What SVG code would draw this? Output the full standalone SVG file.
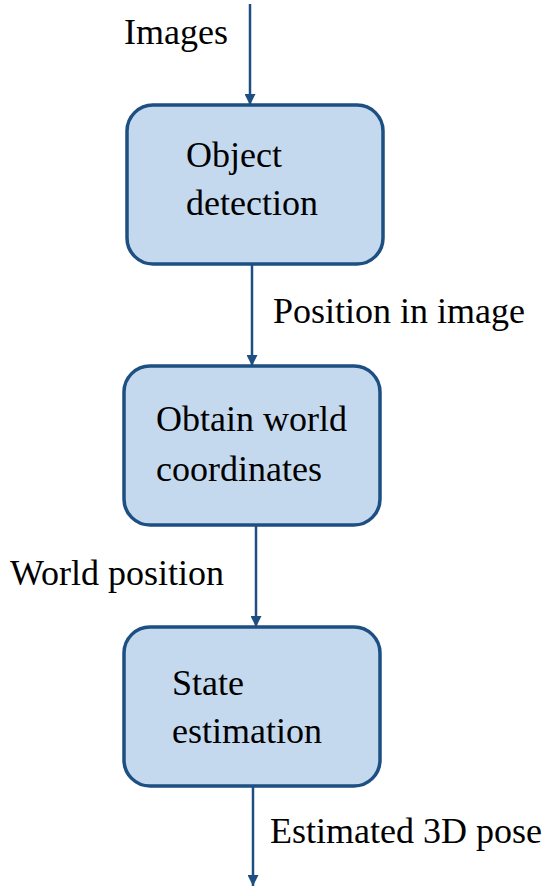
<svg xmlns="http://www.w3.org/2000/svg" width="551" height="888" viewBox="0 0 551 888">
  <style>
    .box { fill: #c5d9ee; stroke: #1d4f82; stroke-width: 3.5; }
    .edge { stroke: #1d4f82; stroke-width: 2.5; fill: none; }
  </style>
  <defs>
    <marker id="arrow" viewBox="0 0 10 10" refX="10" refY="5" markerWidth="4.4" markerHeight="4.4" orient="auto" markerUnits="strokeWidth">
      <path d="M0,0 L10,5 L0,10 Z" fill="#1d4f82"/>
    </marker>
  </defs>

  <g id="connectors">
    <line class="edge" x1="250" y1="4" x2="250" y2="105" marker-end="url(#arrow)"/>
    <line class="edge" x1="252" y1="264" x2="252" y2="366" marker-end="url(#arrow)"/>
    <line class="edge" x1="256" y1="525" x2="256" y2="627" marker-end="url(#arrow)"/>
    <line class="edge" x1="253" y1="786" x2="253" y2="886" marker-end="url(#arrow)"/>
  </g>

  <g id="object-detection">
    <rect class="box" x="127" y="105" width="256" height="159" rx="26"/>
  </g>
  <g id="world-coordinates">
    <rect class="box" x="124" y="366" width="256" height="159" rx="26"/>
  </g>
  <g id="state-estimation">
    <rect class="box" x="124" y="627" width="256" height="159" rx="26"/>
  </g>

  <text x="124" y="44" font-family="serif" font-size="36">Images</text>
  <text x="186" y="167" font-family="serif" font-size="36">Object</text>
  <text x="186" y="215" font-family="serif" font-size="36">detection</text>
  <text x="273" y="323" font-family="serif" font-size="36">Position in image</text>
  <text x="156" y="431" font-family="serif" font-size="36">Obtain world</text>
  <text x="156" y="481" font-family="serif" font-size="36">coordinates</text>
  <text x="10" y="585" font-family="serif" font-size="36">World position</text>
  <text x="172" y="695" font-family="serif" font-size="36">State</text>
  <text x="172" y="743" font-family="serif" font-size="36">estimation</text>
  <text x="270" y="843" font-family="serif" font-size="36">Estimated 3D pose</text>
</svg>
